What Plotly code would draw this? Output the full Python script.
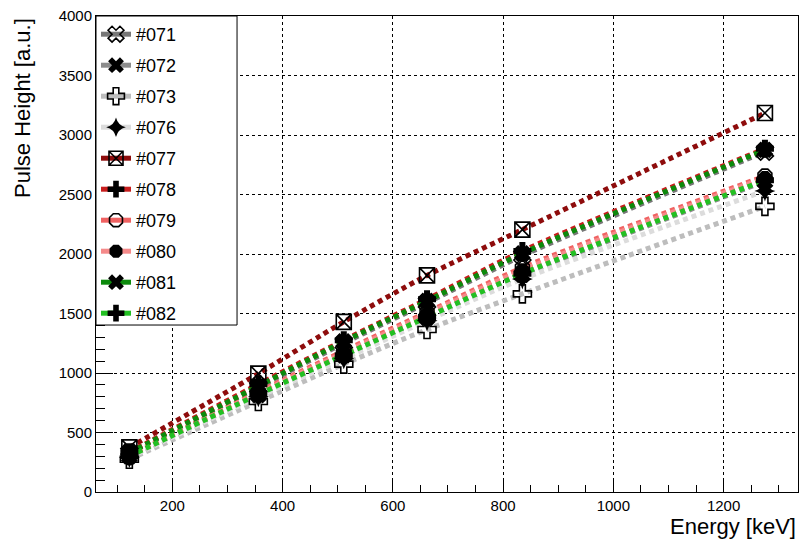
import plotly.graph_objects as go

# Gamma-line energies used for the calibration (keV)
energy_kev = [122, 356, 511, 662, 835, 1275]

channels = ["#071", "#072", "#073", "#076", "#077", "#078", "#079", "#080", "#081", "#082"]

# Pulse height (a.u.) per channel at each energy
ph_071 = [330, 880, 1250, 1590, 1985, 2860]
ph_072 = [300, 815, 1150, 1465, 1825, 2610]
ph_073 = [275, 760, 1075, 1365, 1665, 2400]
ph_076 = [290, 800, 1120, 1440, 1790, 2530]
ph_077 = [375, 995, 1430, 1820, 2205, 3185]
ph_078 = [335, 905, 1275, 1620, 2025, 2885]
ph_079 = [310, 840, 1185, 1510, 1885, 2655]
ph_080 = [305, 830, 1170, 1495, 1865, 2640]
ph_081 = [330, 890, 1265, 1605, 2005, 2875]
ph_082 = [300, 820, 1150, 1470, 1835, 2620]

pulse_heights = [ph_071, ph_072, ph_073, ph_076, ph_077,
                 ph_078, ph_079, ph_080, ph_081, ph_082]

line_colors = ["#777777", "#8c8c8c", "#bdbdbd", "#dcdcdc", "#8e0c0c",
               "#c81e1e", "#f06262", "#f58a8a", "#0c8a0c", "#22c022"]

marker_symbols = ["x-open", "x", "cross-open", "star-diamond", "square-x-open",
                  "cross", "octagon-open", "octagon", "x", "cross"]

FONT = "Liberation Sans, Arial, sans-serif"

fig = go.Figure()

# fit curves (dotted, thick)
for name, ys, col in zip(channels, pulse_heights, line_colors):
    fig.add_trace(go.Scatter(
        x=energy_kev, y=ys, mode="lines", showlegend=False, hoverinfo="skip",
        line=dict(color=col, width=5, dash="5px,4px", shape="spline", smoothing=0.8),
    ))

# measured points on top of the curves
for name, ys, sym in zip(channels, pulse_heights, marker_symbols):
    is_open = sym.endswith("-open")
    fig.add_trace(go.Scatter(
        x=energy_kev, y=ys, mode="markers", name=name, showlegend=False,
        marker=dict(symbol=sym, size=15, color="black",
                    line=dict(color="black", width=1.6 if is_open else 0)),
    ))

# legend entries: solid line sample with marker
for i, (name, sym, col) in enumerate(zip(channels, marker_symbols, line_colors)):
    is_open = sym.endswith("-open")
    fig.add_trace(go.Scatter(
        x=[None], y=[None], mode="lines+markers", name=name,
        legendgroup=f"g{i}",
        line=dict(color=col, width=5),
        marker=dict(symbol=sym, size=14, color="black",
                    line=dict(color="black", width=1.6 if is_open else 0)),
    ))

axis_common = dict(
    showline=True, linecolor="black", linewidth=1, mirror=True,
    ticks="inside", tickcolor="black", tickwidth=1,
    showgrid=True, gridcolor="black", gridwidth=1, griddash="dot",
    zeroline=False,
    tickfont=dict(family=FONT, size=15, color="black"),
)

fig.update_xaxes(range=[61.5, 1335], tick0=0, dtick=200, ticklen=14,
                 minor=dict(ticks="inside", dtick=50, ticklen=7, tickcolor="black", showgrid=False),
                 **axis_common)
fig.update_yaxes(range=[0, 4000], tick0=0, dtick=500, ticklen=17,
                 minor=dict(ticks="inside", dtick=100, ticklen=9, tickcolor="black", showgrid=False),
                 **axis_common)

# legend frame
fig.add_shape(type="rect", xref="paper", yref="paper",
              x0=0, x1=0.2009, y0=0.3508, y1=1,
              fillcolor="white", line=dict(color="black", width=1), layer="above")

fig.add_annotation(text="Energy [keV]", xref="paper", yref="paper",
                   x=1.0, y=-0.073, xanchor="right", yanchor="middle",
                   showarrow=False, font=dict(family=FONT, size=22, color="black"))
fig.add_annotation(text="Pulse Height [a.u.]", xref="paper", yref="paper",
                   x=-0.1054, y=1.0, xanchor="center", yanchor="top", textangle=-90,
                   showarrow=False, font=dict(family=FONT, size=22, color="black"))

fig.update_layout(
    width=802, height=541,
    margin=dict(l=96, r=4, t=16, b=49),
    paper_bgcolor="white", plot_bgcolor="white",
    font=dict(family=FONT, color="black"),
    legend=dict(x=0, y=1.0, xanchor="left", yanchor="top",
                bgcolor="rgba(0,0,0,0)", borderwidth=0,
                font=dict(family=FONT, size=18, color="black"),
                tracegroupgap=4.6, itemwidth=30),
)

fig.write_html("out.html")
